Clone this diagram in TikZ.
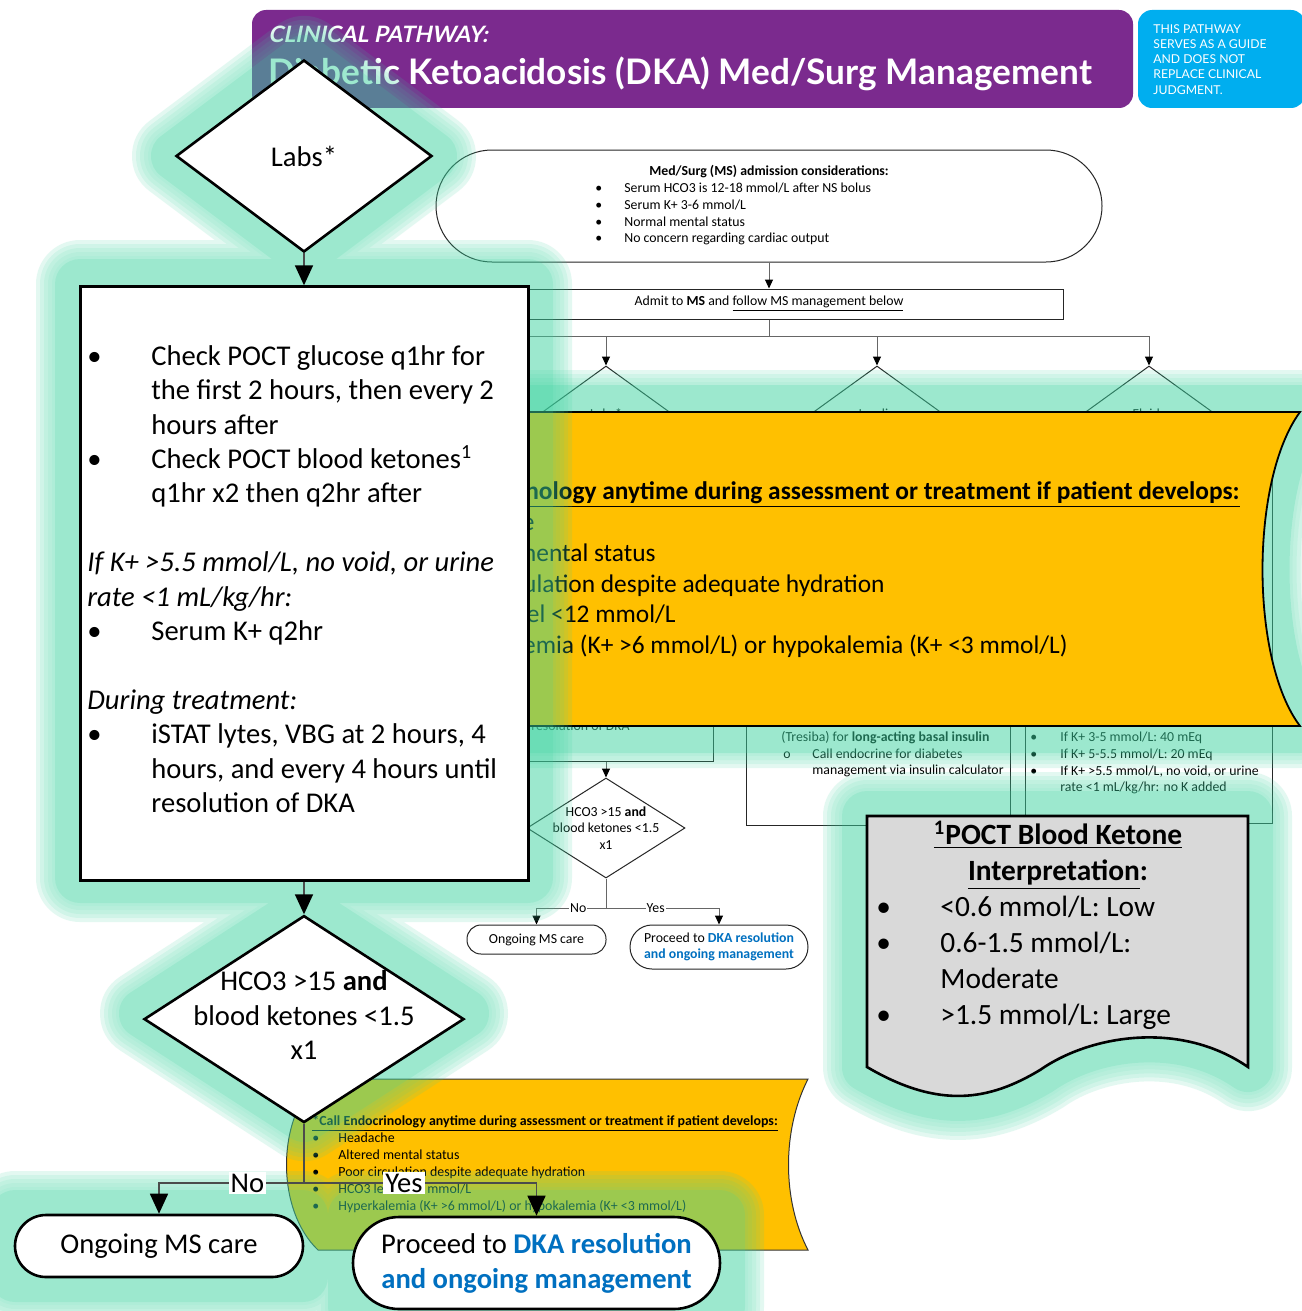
\documentclass[tikz,border=0pt]{standalone}
\usepackage{fontspec}
\setmainfont{Carlito}
\newfontfamily\bannerfont{Lato}
\newfontfamily\bannerslant{Lato}[FakeSlant=0.2]
\usepackage{xcolor}
\usepackage{tikz}
\usetikzlibrary{shapes.geometric, arrows.meta, positioning, calc}

\definecolor{glowmint}{RGB}{59,211,159}
\definecolor{pathpurple}{RGB}{123,42,142}
\definecolor{guideblue}{RGB}{0,174,239}
\definecolor{alertgold}{RGB}{255,192,0}
\definecolor{linkblue}{RGB}{0,112,192}
\definecolor{legendgray}{RGB}{217,217,217}

\newcommand{\itembul}[1][29pt]{\makebox[#1][l]{\textbullet}}
\newcommand{\fronthalo}{%
  (304,60) -- (432,156) -- (304,252) -- (176,156) -- cycle
  (80,284) rectangle (528,878)
  (304,910) -- (464,1013.5) -- (304,1117) -- (144,1013.5) -- cycle
  (15,1215) rectangle (303,1277)
  (353,1215) rectangle (720,1307)
  (867,816) -- (1248,816) -- (1248,1067) .. controls (1180,1020) and (1090,1035) .. (1040,1070)
  .. controls (990,1100) and (940,1110) .. (867,1067) -- cycle}
\newcommand{\alertoutline}{%
  (420,412) -- (1300,412) .. controls (1250,480) and (1250,660) .. (1300,726)
  -- (420,726) .. controls (380,660) and (380,480) .. (420,412) -- cycle}

\begin{document}
\begin{tikzpicture}[
    x=0.5pt, y=-0.5pt,
    tinytxt/.style={font=\fontsize{6.9}{8.3}\selectfont, inner sep=0pt},
    bigtxt/.style={font=\fontsize{14.3}{17.2}\selectfont},
    thinbox/.style={draw=black!85, line width=0.5pt},
    thinline/.style={draw=black!60, line width=0.5pt},
    thinarr/.style={thinline, -{Triangle[length=4.5pt, width=4pt, color=black]}},
    mainline/.style={draw=black!70, line width=0.8pt},
    mainarr/.style={mainline, -{Triangle[length=10pt, width=9pt, color=black]}},
    decision/.style={diamond, draw=black, line width=1.3pt, fill=white, inner sep=0pt},
    terminal/.style={rectangle, draw=black, line width=1.3pt, fill=white, align=center, inner sep=0pt, bigtxt},
    halo/.style={draw=glowmint, line join=round, line width=#1},
    branchtag/.style={fill=white, inner sep=1pt, bigtxt},
  ]
  \useasboundingbox (0,0) rectangle (1301,1311);
  \fill[white] (0,0) rectangle (1301,1311);

  % pathway underneath
  \node[thinbox, fill=white, rounded corners=28pt, minimum width=333pt, minimum height=56pt] (msadmit) at (769,206) {};
  \node[tinytxt] at (769,172) {\textbf{Med/Surg (MS) admission considerations:}};
  \node[tinytxt, align=left, anchor=north west] (mslist) at (595,183) {%
    \itembul[14.5pt]Serum HCO3 is 12-18 mmol/L after NS bolus\\
    \itembul[14.5pt]Serum K+ 3-6 mmol/L\\
    \itembul[14.5pt]Normal mental status\\
    \itembul[14.5pt]No concern regarding cardiac output};
  \node[thinbox, tinytxt, minimum width=294pt, minimum height=15pt] (admit) at (769,304)
    {Admit to \textbf{MS} and \underline{follow MS management below}};
  \draw[thinarr] (msadmit) -- (admit);

  \coordinate (fork) at (769,336);
  \coordinate (forkwest) at (480,336);
  \draw[thinline] (admit.south) -- (fork);
  \foreach \nm/\xx/\txt in {labsS/606/Labs*, insulinS/877/Insulin, fluidsS/1149/Fluids}{
    \node[decision, thinbox, fill=white, minimum width=76pt, minimum height=55pt] (\nm) at (\xx,421) {};
    \node[tinytxt] at (\xx,414) {\txt};
    \draw[thinarr] (fork -| \nm.north) -- (\nm.north);
  }
  \draw[thinline] (forkwest) -- (fork -| fluidsS.north);

  \node[thinbox, minimum width=122pt, minimum height=60pt, anchor=south east] (resbox) at (714,762) {};
  \node[tinytxt, anchor=base west] at (531,730) {resolution of DKA};
  \node[thinbox, minimum width=132pt, minimum height=177.5pt] (insbox) at (878,647.5) {};
  \node[tinytxt, align=left, anchor=north west] at (781,731) {%
    (Tresiba) for \textbf{long-acting basal insulin}\\
    \makebox[15.5pt][l]{\hspace{1pt}o}Call endocrine for diabetes\\
    \hspace*{15.5pt}management via insulin calculator};
  \node[thinbox, minimum width=123.5pt, minimum height=176.5pt] (fluidbox) at (1148.5,646.5) {};
  \node[tinytxt, align=left, anchor=north west] at (1030,732) {%
    \itembul[15pt]If K+ 3-5 mmol/L: 40 mEq\\
    \itembul[15pt]If K+ 5-5.5 mmol/L: 20 mEq\\
    \itembul[15pt]If K+ >5.5 mmol/L, no void, or urine\\
    \hspace*{15pt}rate <1 mL/kg/hr: no K added};

  \node[decision, thinbox, fill=white, minimum width=79pt, minimum height=50pt] (hcoS) at (606,828) {};
  \node[tinytxt, align=center] at (hcoS) {HCO3 >15 \textbf{and}\\blood ketones <1.5\\x1};
  \draw[thinarr] (resbox.south -| hcoS.north) -- (hcoS.north);
  \node[thinbox, fill=white, rounded corners=7pt, tinytxt, minimum width=69.5pt, minimum height=14.5pt] (ongoS) at (536.5,939.5) {Ongoing MS care};
  \node[thinbox, fill=white, rounded corners=11pt, tinytxt, align=center, minimum width=89pt, minimum height=22pt] (procS) at (719,947)
    {Proceed to \textcolor{linkblue}{\textbf{DKA resolution}}\\\textcolor{linkblue}{\textbf{and ongoing management}}};
  \coordinate (hcoSfork) at (606,908);
  \draw[thinline] (hcoS.south) -- (hcoSfork);
  \draw[thinarr] (hcoSfork) -| node[pos=0.2, fill=white, tinytxt, inner sep=0.5pt] {No} (ongoS.north);
  \draw[thinarr] (hcoSfork) -| node[pos=0.22, fill=white, tinytxt, inner sep=0.5pt] {Yes} (procS.north);

  % small call-out
  \filldraw[fill=alertgold, draw=black!80, line width=0.5pt] (318,1079) -- (808,1079)
    .. controls (782,1130) and (782,1200) .. (808,1250) -- (318,1250)
    .. controls (276,1210) and (276,1120) .. (318,1079) -- cycle;
  \node[font=\fontsize{6.95}{8.5}\selectfont, inner sep=0pt, align=left, anchor=north west] (callS) at (312,1115) {%
    \textbf{\underline{*Call Endocrinology anytime during assessment or treatment if patient develops:}}\\
    \itembul[13pt]Headache\\
    \itembul[13pt]Altered mental status\\
    \itembul[13pt]Poor circulation despite adequate hydration\\
    \itembul[13pt]HCO3 level <12 mmol/L\\
    \itembul[13pt]Hyperkalemia (K+ >6 mmol/L) or hypokalemia (K+ <3 mmol/L)};

  % large call-out
  \begin{scope}[transparency group, opacity=0.5]
    \foreach \w in {42,38,34,30}
      \draw[halo=\w pt, opacity=0.28] \alertoutline;
    \filldraw[halo=27pt, fill=glowmint] \alertoutline;
  \end{scope}
  \filldraw[fill=alertgold, draw=black, line width=0.9pt] \alertoutline;
  \begin{scope}[font=\fontsize{12.7}{15.5}\selectfont, inner sep=0pt]
    \node[anchor=base east] (callL) at (1240,499) {\textbf{\underline{*Call Endocrinology anytime during assessment or treatment if patient develops:}}};
    \node[anchor=base east] at (535,530) {Headache};
    \node[anchor=base east] at (656,561) {Altered mental status};
    \node[anchor=base east] at (885,592) {Poor circulation despite adequate hydration};
    \node[anchor=base east] at (676,622) {HCO3 level <12 mmol/L};
    \node[anchor=base east] at (1068,653) {Hyperkalemia (K+ >6 mmol/L) or hypokalemia (K+ <3 mmol/L)};
  \end{scope}

  % banner
  \node[fill=pathpurple, rounded corners=7pt, minimum width=440.5pt, minimum height=49pt] (banner) at (692.5,59) {};
  \node[text=white, inner sep=0pt, anchor=base west, font=\bannerslant\fontsize{11.3}{12}\selectfont\bfseries] at (268,43) {CLINICAL PATHWAY:};
  \node[text=white, inner sep=0pt, anchor=base west, font=\bannerfont\fontsize{17.6}{20}\selectfont\bfseries] (title) at (268,85) {Diabetic Ketoacidosis (DKA) Med/Surg Management};
  \node[fill=guideblue, rounded corners=7pt, minimum width=83.5pt, minimum height=49pt] (guide) at (1221.5,59) {};
  \node[text=white, inner sep=0pt, align=left, anchor=north west, font=\bannerfont\fontsize{6.1}{7.6}\selectfont] at (1153,24)
    {THIS PATHWAY\\SERVES AS A GUIDE\\AND DOES NOT\\REPLACE CLINICAL\\JUDGMENT.};

  % glow of the front pathway
  \begin{scope}[transparency group, opacity=0.5]
    \foreach \w in {44,40,36,32,28}
      \draw[halo=\w pt, opacity=0.28] \fronthalo;
    \filldraw[halo=25pt, fill=glowmint] \fronthalo;
  \end{scope}

  % front pathway
  \node[decision, minimum width=128pt, minimum height=96pt] (labs) at (304,156) {};
  \node[bigtxt] at (labs) {Labs*};
  \node[draw=black, line width=1.5pt, fill=white, minimum width=224pt, minimum height=297pt, below=16pt of labs] (checks) {};
  \node[bigtxt, align=left, anchor=north west, inner sep=0pt] (checklist) at (87,345) {%
    \makebox[32pt][l]{\textbullet}Check POCT glucose q1hr for\\
    \hspace*{32pt}the first 2 hours, then every 2\\
    \hspace*{32pt}hours after\\
    \makebox[32pt][l]{\textbullet}Check POCT blood ketones\textsuperscript{1}\\
    \hspace*{32pt}q1hr x2 then q2hr after\\[17.2pt]
    \textit{If K+ >5.5 mmol/L, no void, or urine}\\
    \textit{rate <1 mL/kg/hr:}\\
    \makebox[32pt][l]{\textbullet}Serum K+ q2hr\\[17.2pt]
    \textit{During treatment:}\\
    \makebox[32pt][l]{\textbullet}iSTAT lytes, VBG at 2 hours, 4\\
    \hspace*{32pt}hours, and every 4 hours until\\
    \hspace*{32pt}resolution of DKA};
  \node[decision, minimum width=160pt, minimum height=103.5pt, below=16pt of checks] (hco) {};
  \node[bigtxt, align=center] at (304,1015) {HCO3 >15 \textbf{and}\\blood ketones <1.5\\x1};
  \node[terminal, rounded corners=15.5pt, minimum width=144pt, minimum height=31pt] (ongo) at (159,1246) {Ongoing MS care};
  \node[terminal, rounded corners=23pt, minimum width=183.5pt, minimum height=46pt, font=\fontsize{14.3}{17.5}\selectfont] (proc) at (536.5,1263)
    {Proceed to \textcolor{linkblue}{\textbf{DKA resolution}}\\\textcolor{linkblue}{\textbf{and ongoing management}}};

  \draw[mainarr] (labs.south) -- (checks.north);
  \draw[mainarr] (checks.south) -- (hco.north);
  \coordinate (split) at (304,1183);
  \draw[mainline] (hco.south) -- (split);
  \draw[mainarr] (split) -| node[branchtag, pos=0.195] {No} (ongo.north);
  \draw[mainarr] (split) -| node[branchtag, pos=0.215] {Yes} (proc.north);

  % ketone legend
  \filldraw[fill=legendgray, draw=black, line width=1.3pt] (867,816) -- (1248,816) -- (1248,1067)
    .. controls (1180,1020) and (1090,1035) .. (1040,1070)
    .. controls (990,1100) and (940,1110) .. (867,1067) -- cycle;
  \node[font=\fontsize{14.7}{18}\selectfont\bfseries, align=center, inner sep=0pt] (ketonehead) at (1058,855)
    {\underline{\textsuperscript{1}POCT Blood Ketone}\\\underline{Interpretation}:};
  \node[font=\fontsize{14.7}{17.9}\selectfont, align=left, anchor=north west, inner sep=0pt] (ketonelist) at (876,896) {%
    \makebox[32pt][l]{\textbullet}<0.6 mmol/L: Low\\
    \makebox[32pt][l]{\textbullet}0.6-1.5 mmol/L:\\
    \hspace*{32pt}Moderate\\
    \makebox[32pt][l]{\textbullet}>1.5 mmol/L: Large};
\end{tikzpicture}
\end{document}
